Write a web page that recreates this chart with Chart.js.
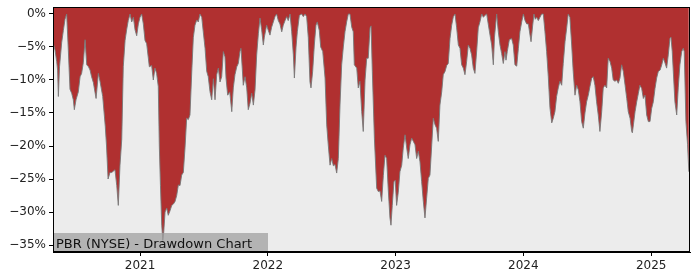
<!DOCTYPE html>
<html>
<head>
<meta charset="utf-8">
<script src="https://cdn.jsdelivr.net/npm/chart.js@4"></script>
<style>
  html, body { margin: 0; padding: 0; background: #fff; }
  .chartContainer { width: 700px; height: 280px; }
</style>
</head>
<body>
<div class="chartContainer"><canvas id="myChart" width="700" height="280"></canvas></div>
<script>
// decimal year of each point
const dates = [
  2020.322, 2020.335, 2020.348, 2020.355, 2020.361, 2020.370, 2020.387, 2020.400, 2020.413, 2020.426,
  2020.439, 2020.452, 2020.465, 2020.478, 2020.486, 2020.499, 2020.517, 2020.531, 2020.543, 2020.556,
  2020.570, 2020.583, 2020.597, 2020.609, 2020.621, 2020.635, 2020.656, 2020.674, 2020.687, 2020.708,
  2020.728, 2020.738, 2020.750, 2020.765, 2020.779, 2020.804, 2020.818, 2020.830, 2020.843, 2020.857,
  2020.869, 2020.883, 2020.896, 2020.908, 2020.922, 2020.935, 2020.948, 2020.961, 2020.974, 2020.987,
  2021.000, 2021.013, 2021.026, 2021.039, 2021.052, 2021.073, 2021.091, 2021.104, 2021.117, 2021.130,
  2021.143, 2021.151, 2021.160, 2021.170, 2021.178, 2021.184, 2021.196, 2021.209, 2021.221, 2021.235,
  2021.248, 2021.261, 2021.274, 2021.287, 2021.300, 2021.313, 2021.326, 2021.339, 2021.352, 2021.365,
  2021.378, 2021.391, 2021.405, 2021.417, 2021.430, 2021.444, 2021.456, 2021.469, 2021.483, 2021.495,
  2021.509, 2021.522, 2021.534, 2021.548, 2021.561, 2021.574, 2021.587, 2021.600, 2021.613, 2021.626,
  2021.639, 2021.652, 2021.665, 2021.673, 2021.686, 2021.702, 2021.718, 2021.730, 2021.743, 2021.757,
  2021.769, 2021.782, 2021.790, 2021.800, 2021.808, 2021.822, 2021.835, 2021.847, 2021.861, 2021.874,
  2021.887, 2021.900, 2021.913, 2021.926, 2021.939, 2021.952, 2021.965, 2021.973, 2021.991, 2022.004,
  2022.017, 2022.030, 2022.043, 2022.056, 2022.069, 2022.082, 2022.095, 2022.109, 2022.121, 2022.135,
  2022.148, 2022.160, 2022.174, 2022.187, 2022.200, 2022.208, 2022.221, 2022.231, 2022.247, 2022.265,
  2022.278, 2022.291, 2022.304, 2022.317, 2022.330, 2022.338, 2022.351, 2022.364, 2022.377, 2022.387,
  2022.403, 2022.414, 2022.430, 2022.448, 2022.461, 2022.473, 2022.487, 2022.500, 2022.513, 2022.526,
  2022.539, 2022.552, 2022.565, 2022.578, 2022.591, 2022.604, 2022.617, 2022.630, 2022.643, 2022.657,
  2022.669, 2022.677, 2022.696, 2022.708, 2022.721, 2022.735, 2022.747, 2022.761, 2022.774, 2022.786,
  2022.800, 2022.808, 2022.818, 2022.834, 2022.852, 2022.865, 2022.878, 2022.891, 2022.904, 2022.917,
  2022.930, 2022.942, 2022.956, 2022.964, 2022.974, 2022.987, 2022.997, 2023.008, 2023.021, 2023.034,
  2023.048, 2023.060, 2023.074, 2023.087, 2023.099, 2023.113, 2023.126, 2023.139, 2023.152, 2023.165,
  2023.178, 2023.191, 2023.204, 2023.217, 2023.230, 2023.243, 2023.256, 2023.269, 2023.283, 2023.295,
  2023.309, 2023.321, 2023.334, 2023.347, 2023.361, 2023.373, 2023.387, 2023.400, 2023.412, 2023.426,
  2023.439, 2023.452, 2023.465, 2023.478, 2023.491, 2023.504, 2023.517, 2023.530, 2023.543, 2023.556,
  2023.569, 2023.582, 2023.595, 2023.608, 2023.621, 2023.635, 2023.647, 2023.660, 2023.674, 2023.687,
  2023.700, 2023.713, 2023.725, 2023.739, 2023.752, 2023.765, 2023.774, 2023.791, 2023.804, 2023.817,
  2023.830, 2023.843, 2023.856, 2023.864, 2023.874, 2023.890, 2023.908, 2023.921, 2023.934, 2023.948,
  2023.961, 2023.973, 2023.987, 2024.000, 2024.013, 2024.026, 2024.039, 2024.052, 2024.060, 2024.073,
  2024.083, 2024.093, 2024.104, 2024.117, 2024.130, 2024.143, 2024.156, 2024.169, 2024.182, 2024.195,
  2024.208, 2024.222, 2024.234, 2024.247, 2024.260, 2024.273, 2024.286, 2024.300, 2024.312, 2024.326,
  2024.339, 2024.351, 2024.364, 2024.378, 2024.390, 2024.404, 2024.417, 2024.430, 2024.443, 2024.456,
  2024.469, 2024.482, 2024.495, 2024.508, 2024.521, 2024.535, 2024.547, 2024.560, 2024.573, 2024.586,
  2024.599, 2024.613, 2024.625, 2024.638, 2024.652, 2024.664, 2024.678, 2024.691, 2024.703, 2024.717,
  2024.730, 2024.743, 2024.756, 2024.769, 2024.782, 2024.796, 2024.809, 2024.821, 2024.835, 2024.848,
  2024.853, 2024.861, 2024.874, 2024.887, 2024.900, 2024.912, 2024.926, 2024.939, 2024.952, 2024.965,
  2024.978, 2024.991, 2025.004, 2025.017, 2025.030, 2025.043, 2025.056, 2025.070, 2025.083, 2025.095,
  2025.108, 2025.121, 2025.134, 2025.147, 2025.155, 2025.165, 2025.176, 2025.186, 2025.200, 2025.212,
  2025.225, 2025.239, 2025.251, 2025.259, 2025.272, 2025.285, 2025.295
];

// drawdown in percent
const drawdown = [
  -4.5, -5.5, -7.2, -8.5, -12.5, -8.0, -4.3, -2.5, -0.8, 0.0,
  -5.5, -11.4, -12.0, -13.0, -14.5, -13.0, -11.8, -9.5, -9.0, -7.4,
  -3.9, -7.7, -8.0, -8.5, -9.5, -10.4, -12.8, -9.0, -10.2, -12.5,
  -17.0, -20.0, -25.0, -24.0, -24.0, -23.6, -26.0, -29.0, -23.0, -19.0,
  -8.0, -4.0, -2.3, -1.0, 0.0, -1.2, -0.5, -2.4, -3.3, -1.5,
  -0.5, 0.0, -1.5, -4.0, -4.5, -8.0, -7.8, -10.0, -8.2, -9.0,
  -11.0, -20.0, -26.0, -32.0, -34.3, -33.5, -30.0, -29.4, -30.5, -29.8,
  -29.0, -28.8, -28.4, -27.5, -25.9, -26.0, -24.4, -24.0, -20.3, -15.8,
  -16.0, -15.3, -8.7, -3.6, -1.7, -0.9, -1.2, 0.0, -0.5, -2.7,
  -5.2, -8.7, -9.5, -11.8, -13.0, -9.8, -13.0, -9.2, -8.2, -10.3,
  -9.5, -5.7, -6.5, -9.7, -12.3, -11.8, -14.8, -11.2, -9.2, -8.0,
  -7.5, -5.7, -5.2, -8.2, -10.8, -9.5, -11.2, -14.5, -13.5, -12.0,
  -13.8, -11.5, -6.2, -3.0, -0.6, -2.4, -4.7, -3.5, -1.7, -2.5,
  -3.2, -2.0, -1.2, -0.4, 0.0, -1.0, -1.5, -2.7, -1.7, -1.0,
  -0.4, -1.0, 0.0, -2.7, -6.2, -9.7, -5.0, -2.7, -0.2, 0.0,
  -0.4, 0.0, -0.4, -3.6, -10.3, -11.2, -8.7, -4.7, -1.7, -1.2,
  -2.5, -5.0, -5.7, -9.7, -16.8, -19.8, -22.9, -21.9, -23.0, -22.8,
  -24.1, -21.9, -13.8, -7.7, -5.0, -2.7, -1.2, 0.0, 0.0, -2.0,
  -2.7, -7.7, -8.2, -11.2, -10.2, -14.8, -17.8, -10.0, -6.7, -6.7,
  -2.1, -1.8, -8.7, -18.8, -26.4, -26.9, -26.8, -28.4, -24.5, -21.4,
  -21.9, -26.4, -30.9, -32.0, -29.0, -25.4, -25.2, -29.0, -27.0, -23.9,
  -22.9, -20.3, -18.3, -20.3, -21.9, -19.8, -18.8, -19.3, -19.8, -21.9,
  -20.8, -22.4, -25.4, -28.4, -30.9, -27.9, -24.9, -24.4, -19.8, -15.8,
  -16.8, -17.3, -19.3, -13.8, -11.8, -9.2, -8.7, -7.8, -7.5, -3.7,
  -1.7, -0.4, 0.0, -2.1, -4.7, -5.2, -7.7, -8.2, -9.2, -7.2,
  -4.7, -5.2, -6.2, -8.2, -9.0, -5.5, -2.1, -1.2, 0.0, -0.5,
  -0.2, 0.0, -1.5, -3.2, -4.7, -7.7, -3.5, 0.0, -2.7, -4.7,
  -6.0, -7.5, -5.7, -7.0, -5.7, -3.9, -3.7, -4.7, -7.7, -7.9,
  -5.2, -2.7, -1.2, 0.0, -1.0, -1.5, -1.5, -3.2, -4.2, -1.7,
  0.0, -0.8, -0.5, -1.0, -0.5, 0.0, 0.0, -2.7, -5.7, -9.5,
  -14.2, -16.5, -15.8, -14.8, -12.5, -11.2, -10.2, -10.8, -7.5, -4.2,
  -2.1, 0.0, -0.5, -4.7, -8.7, -12.3, -10.8, -11.5, -13.3, -16.3,
  -17.3, -15.0, -13.3, -12.3, -11.0, -9.7, -9.5, -10.8, -13.3, -15.3,
  -17.8, -14.8, -11.2, -10.8, -11.2, -6.7, -7.2, -8.2, -10.0, -10.2,
  -10.0, -10.5, -9.7, -7.7, -8.7, -10.8, -12.8, -14.8, -15.8, -17.8,
  -18.0, -16.8, -14.8, -13.3, -12.0, -10.8, -11.3, -12.8, -12.3, -15.3,
  -16.3, -16.3, -14.3, -13.3, -11.3, -9.7, -8.7, -8.5, -7.7, -6.7,
  -7.4, -8.2, -6.2, -3.7, -3.5, -5.7, -9.7, -13.3, -15.3, -11.2,
  -7.7, -5.7, -5.2, -5.7, -16.3, -19.8, -23.9
];

const yearTicks = [2021, 2022, 2023, 2024, 2025];
const pctTicks = [0, -5, -10, -15, -20, -25, -30, -35];
const chartTitle = "PBR (NYSE) - Drawdown Chart";

const fontFamily = "'DejaVu Sans', sans-serif";

// plot background + frame + label box
const framePlugin = {
  id: "frame",
  beforeDraw(chart) {
    const { ctx, chartArea: a } = chart;
    ctx.save();
    ctx.fillStyle = "#ececec";
    ctx.fillRect(a.left, a.top, a.right - a.left, a.bottom - a.top);
    ctx.restore();
  },
  afterDraw(chart) {
    const { ctx, chartArea: a } = chart;
    ctx.save();
    ctx.fillStyle = "rgba(160,160,160,0.75)";
    ctx.fillRect(a.left, a.bottom - 19, 215, 19);
    ctx.fillStyle = "#111";
    ctx.font = "13px " + fontFamily;
    ctx.textBaseline = "alphabetic";
    ctx.fillText(chartTitle, a.left + 3, a.bottom - 4);
    ctx.strokeStyle = "#000";
    ctx.lineWidth = 1;
    ctx.strokeRect(a.left + 0.5, a.top + 0.5, a.right - a.left - 1, a.bottom - a.top - 1);
    ctx.restore();
  },
};

const ctx = document.getElementById("myChart").getContext("2d");
new Chart(ctx, {
  type: "line",
  data: {
    datasets: [
      {
        data: dates.map((d, i) => ({ x: d, y: drawdown[i] })),
        borderColor: "rgba(120,120,120,0.9)",
        borderWidth: 1,
        backgroundColor: "#b03030",
        fill: "end",
        pointRadius: 0,
        tension: 0,
      },
    ],
  },
  plugins: [framePlugin],
  options: {
    responsive: false,
    animation: false,
    devicePixelRatio: 1,
    layout: { padding: { top: 7, right: 10, left: 0, bottom: 0 } },
    plugins: {
      legend: { display: false },
      tooltip: { enabled: false },
    },
    scales: {
      x: {
        type: "linear",
        min: 2020.319,
        max: 2025.304,
        afterBuildTicks: (axis) => {
          axis.ticks = yearTicks.map((v) => ({ value: v }));
        },
        afterFit: (axis) => {
          axis.height = 28;
          axis.paddingLeft = 0;
          axis.paddingRight = 0;
        },
        grid: {
          drawOnChartArea: false,
          color: "#000",
          tickLength: 4,
        },
        border: { color: "#000" },
        ticks: {
          color: "#222",
          padding: 3,
          maxRotation: 0,
          autoSkip: false,
          font: { family: fontFamily, size: 12 },
          callback: (v) => String(v),
        },
      },
      y: {
        min: -36.06,
        max: 1.06,
        afterBuildTicks: (axis) => {
          axis.ticks = pctTicks.map((v) => ({ value: v }));
        },
        afterFit: (axis) => {
          axis.width = 53;
          axis.paddingTop = 0;
          axis.paddingBottom = 0;
        },
        grid: {
          drawOnChartArea: false,
          color: "#000",
          tickLength: 4,
        },
        border: { color: "#000" },
        ticks: {
          color: "#222",
          padding: 3,
          autoSkip: false,
          font: { family: fontFamily, size: 12 },
          callback: (v) => (v < 0 ? "\u2212" + Math.abs(v) : v) + "%",
        },
      },
    },
  },
});
</script>
</body>
</html>
